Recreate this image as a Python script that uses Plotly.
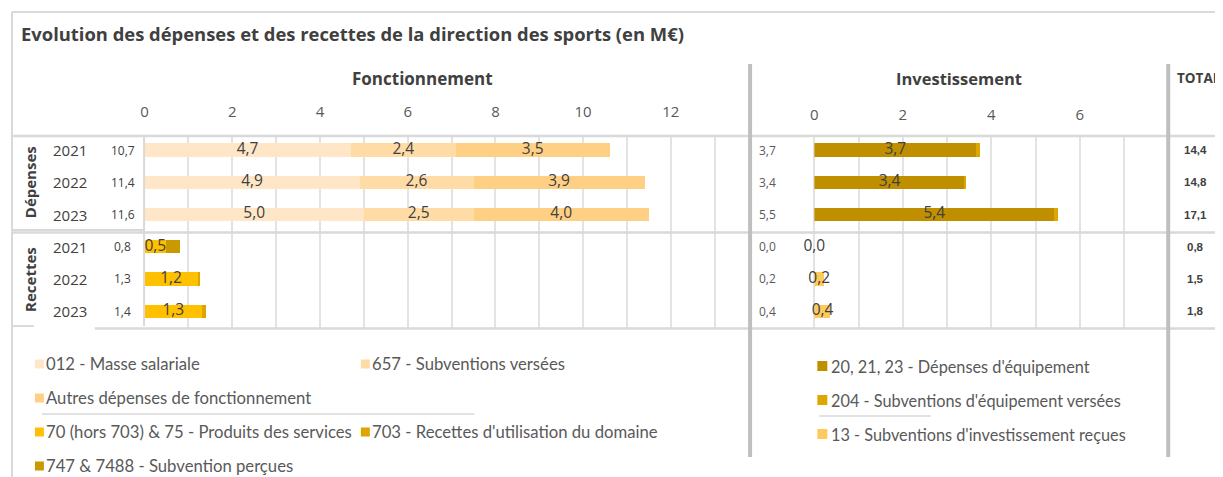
import plotly.graph_objects as go

# ---------------- data ----------------
years = ["2021", "2022", "2023"]
groups = ["Dépenses", "Recettes"]

# Fonctionnement - dépenses (M€)
f_masse = [4.7, 4.9, 5.0]
f_subv = [2.4, 2.6, 2.5]
f_autres = [3.5, 3.9, 4.0]
# Fonctionnement - recettes
f_prod = [0.49, 1.21, 1.31]
f_703 = [0.0, 0.04, 0.08]
f_747 = [0.30, 0.0, 0.0]
# Investissement - dépenses
i_equip = [3.66, 3.40, 5.42]
i_204 = [0.08, 0.04, 0.10]
# Investissement - recettes
i_13 = [0.0, 0.22, 0.37]

# totals shown in the side columns
f_tot_dep = [10.7, 11.4, 11.6]
f_tot_rec = [0.8, 1.3, 1.4]
i_tot_dep = [3.7, 3.4, 5.5]
i_tot_rec = [0.0, 0.2, 0.4]
grand_dep = [14.4, 14.8, 17.1]
grand_rec = [0.8, 1.5, 1.8]

f_ticks = [0, 2, 4, 6, 8, 10, 12]
i_ticks = [0, 2, 4, 6]

legend_left = [
    ("012 - Masse salariale", "masse"),
    ("657 - Subventions versées", "subv"),
    ("Autres dépenses de fonctionnement", "autres"),
    ("70 (hors 703) & 75 - Produits des services", "prod"),
    ("703 - Recettes d'utilisation du domaine", "r703"),
    ("747 & 7488 - Subvention perçues", "r747"),
]
legend_right = [
    ("20, 21, 23 - Dépenses d'équipement", "equip"),
    ("204 - Subventions d'équipement versées", "s204"),
    ("13 - Subventions d'investissement reçues", "s13"),
]

# ---------------- styles ----------------
COL = {
    "masse": "#FFE6C6",
    "subv": "#FFDBA6",
    "autres": "#FFD084",
    "prod": "#FFC000",
    "r703": "#DEA500",
    "r747": "#C99A00",
    "equip": "#BF8F00",
    "s204": "#DEA600",
    "s13": "#FFCA5C",
}
W, H = 1223, 477
OFFX, OFFY = 10, 8  # page body margin compensation
TXT = "#404040"
TXT2 = "#595959"
LINE = "#d9d9d9"
SEP = "#bfbfbf"
FONT = "Open Sans"
LFONT = "Lato"


def px(x):
    return (x - OFFX) / W


def py(y):
    return 1 - (y - OFFY) / H


def fmt(v):
    return f"{v:.1f}".replace(".", ",")


dep_rows = [0, 1, 2]
rec_rows = [3, 4, 5]
BW = 0.41

fig = go.Figure()


def add_stack(series, rows, xa, colors):
    for vals, c in zip(series, colors):
        fig.add_trace(go.Bar(orientation="h", x=vals, y=rows, width=BW,
                             marker=dict(color=c, line=dict(width=0)),
                             xaxis=xa, yaxis="y", hoverinfo="skip"))


def add_labels(series, rows, xa, which):
    base = [0.0] * len(rows)
    for k, vals in enumerate(series):
        if k in which:
            fig.add_trace(go.Scatter(
                mode="text", x=[b + v / 2 for b, v in zip(base, vals)], y=rows,
                text=[fmt(v) for v in vals], textposition="middle center",
                textfont=dict(family=FONT, size=15.5, color=TXT),
                xaxis=xa, yaxis="y", hoverinfo="skip", cliponaxis=False))
        base = [b + v for b, v in zip(base, vals)]


add_stack([f_masse, f_subv, f_autres], dep_rows, "x",
          [COL["masse"], COL["subv"], COL["autres"]])
add_stack([f_prod, f_703, f_747], rec_rows, "x",
          [COL["prod"], COL["r703"], COL["r747"]])
add_stack([i_equip, i_204], dep_rows, "x2", [COL["equip"], COL["s204"]])
add_stack([i_13], rec_rows, "x2", [COL["s13"]])

add_labels([f_masse, f_subv, f_autres], dep_rows, "x", [0, 1, 2])
add_labels([f_prod, f_703, f_747], rec_rows, "x", [0])
add_labels([i_equip, i_204], dep_rows, "x2", [0])
add_labels([i_13], rec_rows, "x2", [0])

# ---------------- axes ----------------
F0, F1 = 143, 745
I0, I1 = 815, 1167
YT, YB = 136, 328
f_unit = 44.0
i_unit = 44.4

grid = dict(showgrid=True, gridcolor="#e3e3e3", gridwidth=1.5)
fig.update_layout(
    xaxis=dict(domain=[px(F0), px(F1)], range=[0, (F1 - F0) / f_unit], side="top",
               anchor="y", tickmode="array", tickvals=f_ticks,
               ticktext=[str(t) for t in f_ticks],
               ticks="outside", ticklen=12, tickcolor="rgba(0,0,0,0)",
               tickfont=dict(family=FONT, size=15, color=TXT2),
               zeroline=False, showline=False, fixedrange=True,
               minor=dict(tickmode="linear", tick0=0, dtick=1, showgrid=True,
                          gridcolor="#e3e3e3", gridwidth=1.5, ticks=""),
               **grid),
    xaxis2=dict(domain=[px(I0), px(I1)], range=[0, (I1 - I0) / i_unit], side="top",
                anchor="y", tickmode="array", tickvals=i_ticks,
                ticktext=[str(t) for t in i_ticks],
                ticks="outside", ticklen=9, tickcolor="rgba(0,0,0,0)",
                tickfont=dict(family=FONT, size=15, color=TXT2),
                zeroline=True, zerolinecolor="#e3e3e3", zerolinewidth=1.5,
                showline=False, fixedrange=True,
                minor=dict(tickmode="linear", tick0=0, dtick=1, showgrid=True,
                           gridcolor="#e3e3e3", gridwidth=1.5, ticks=""),
                **grid),
    yaxis=dict(domain=[py(YB), py(YT)], range=[5.52, -0.435], visible=False,
               fixedrange=True),
)

shapes = []


def hline(x0, x1, y, color=LINE, w=2):
    shapes.append(dict(type="line", xref="paper", yref="paper",
                       x0=px(x0), x1=px(x1), y0=py(y), y1=py(y),
                       line=dict(color=color, width=w)))


def vline(x, y0, y1, color=LINE, w=2):
    shapes.append(dict(type="line", xref="paper", yref="paper",
                       x0=px(x), x1=px(x), y0=py(y0), y1=py(y1),
                       line=dict(color=color, width=w)))


def square(x, y, color, s=9):
    shapes.append(dict(type="rect", xref="paper", yref="paper",
                       x0=px(x), x1=px(x + s), y0=py(y - s / 2), y1=py(y + s / 2),
                       fillcolor=color, line=dict(width=0)))


# outer frame
hline(10, W + OFFX, 12)
vline(10, 12, H + OFFY)
# table lines
hline(10, W + OFFX, YT, w=2.5)
hline(10, 143, 230, w=2)
hline(10, W + OFFX, 232.5, w=2.5)
hline(10, 32, 326, w=2)
hline(93, W + OFFX, YB + 0.5, w=2.5)
vline(F0 - 0.5, YT, 326, w=2)
# thick separators
vline(750.5, 64, 457, SEP, 4)
vline(1170, 64, 457, SEP, 4)
# legend separators
hline(40, 474, 414, LINE, 1.5)
hline(820, 932, 416, LINE, 1.5)

ann = []


def text(x, y, s, size, color=TXT, bold=False, anchor="left", yref="paper",
         family=FONT, angle=0):
    ann.append(dict(x=px(x), y=(py(y) if yref == "paper" else y),
                    xref="paper", yref=yref, text=f"<b>{s}</b>" if bold else s,
                    showarrow=False, xanchor=anchor, yanchor="middle",
                    textangle=angle, font=dict(family=family, size=size, color=color)))


text(17, 33, "Evolution des dépenses et des recettes de la direction des sports (en M€)",
     18.4, bold=True)
text(422, 78, "Fonctionnement", 17, bold=True, anchor="center")
text(960, 78, "Investissement", 16.5, bold=True, anchor="center")
text(1177, 78, "TOTAL", 13.5, bold=True)

text(28, 1, groups[0], 15, bold=True, anchor="center", yref="y", angle=-90)
text(28, 4, groups[1], 15, bold=True, anchor="center", yref="y", angle=-90)

for rows, ft, it, gt in [(dep_rows, f_tot_dep, i_tot_dep, grand_dep),
                         (rec_rows, f_tot_rec, i_tot_rec, grand_rec)]:
    for r, yr, a, b, c in zip(rows, years, ft, it, gt):
        text(68, r, yr, 15, anchor="center", yref="y")
        text(121, r, fmt(a), 12, anchor="center", yref="y")
        text(768, r, fmt(b), 12, color=TXT2, anchor="center", yref="y")
        text(1197, r, fmt(c), 11.5, bold=True, anchor="center", yref="y",
             family="Liberation Sans")

# legends
lpos = [(33, 364), (360, 364), (33, 398), (33, 432), (360, 432), (33, 466)]
for (label, key), (x, y) in zip(legend_left, lpos):
    square(x, y, COL[key])
    text(x + 9, y, label, 16.7, color=TXT2, family=LFONT)
rpos = [(818, 366), (818, 400), (818, 434)]
for (label, key), (x, y) in zip(legend_right, rpos):
    square(x, y, COL[key], 10)
    text(x + 12, y, label, 16.3, color=TXT2, family=LFONT)

fig.update_layout(
    width=W, height=H, margin=dict(l=0, r=0, t=0, b=0),
    paper_bgcolor="white", plot_bgcolor="white",
    barmode="stack", bargap=0, showlegend=False,
    shapes=shapes, annotations=ann,
    font=dict(family=FONT, color=TXT),
)

fig.write_html("out.html")
